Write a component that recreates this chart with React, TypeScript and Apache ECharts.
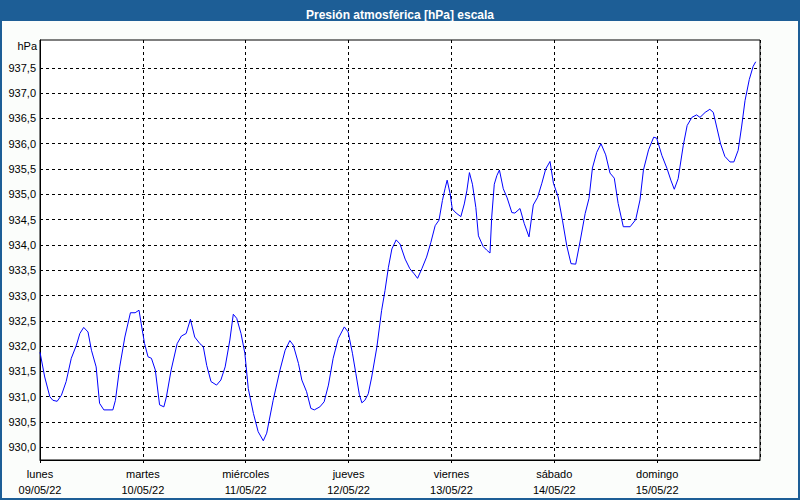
import React, { useEffect, useRef } from "react";
import * as echarts from "echarts";

// Hours since lunes 09/05/22 00:00
const hours = [
  0, 1.1, 2.3, 3.0, 4.0, 5.0, 6.1, 7.3, 8.5, 9.3, 10.2, 11.2, 12.0, 13.1, 13.9, 14.9, 17.0, 17.6, 18.6, 19.8,
  21.1, 22.2, 23.1, 23.6, 24.4, 25.2, 26.0, 26.9, 27.9, 28.9, 29.5, 30.6, 32.0, 33.0, 34.1, 35.1, 36.1, 37.3,
  38.1, 38.9, 39.9, 41.2, 42.2, 43.2, 44.3, 45.1, 45.9, 46.9, 47.8, 48.6, 49.8, 50.9, 52.1, 52.9, 54.4, 56.0,
  57.2, 58.3, 59.1, 60.3, 61.1, 62.2, 63.2, 64.0, 65.3, 66.3, 67.3, 68.4, 69.6, 71.0, 71.9, 72.9, 73.7, 74.5,
  75.1, 75.8, 76.6, 77.4, 78.6, 79.7, 80.5, 81.3, 82.1, 83.1, 84.0, 85.2, 86.3, 87.3, 88.1, 89.1, 90.2, 91.2,
  92.2, 93.1, 93.9, 94.5, 95.0, 95.7, 96.2, 97.1, 98.2, 99.0, 99.6, 100.2, 100.9, 101.7, 102.3, 103.4, 104.2,
  105.0, 105.4, 106.0, 106.6, 107.2, 108.1, 109.0, 110.1, 110.8, 112.0, 113.0, 114.1, 115.1, 116.1, 117.1,
  118.0, 119.0, 119.8, 120.9, 121.9, 122.9, 123.9, 125.0, 126.0, 127.2, 128.1, 128.9, 129.9, 130.9, 132.0,
  133.0, 134.0, 134.9, 136.1, 137.7, 139.0, 140.0, 140.8, 142.0, 143.2, 143.9, 145.1, 146.3, 147.2, 148.0,
  148.9, 150.1, 151.0, 152.1, 153.2, 154.0, 155.2, 156.3, 157.1, 157.9, 158.8, 159.8, 161.0, 161.9, 162.9,
  163.7, 164.5, 165.5, 166.4, 167.0,
];

const pressure = [
  931.88, 931.39, 931.0, 930.93, 930.91, 931.03, 931.3, 931.76, 932.02, 932.25, 932.37, 932.28, 931.92, 931.59,
  930.87, 930.74, 930.74, 930.93, 931.59, 932.18, 932.66, 932.66, 932.71, 932.45, 932.05, 931.79, 931.76,
  931.53, 930.84, 930.8, 931.0, 931.53, 932.05, 932.2, 932.25, 932.53, 932.18, 932.05, 931.99, 931.62,
  931.3, 931.23, 931.33, 931.59, 932.12, 932.63, 932.55, 932.25, 931.86, 931.16, 930.67, 930.31, 930.13,
  930.28, 930.93, 931.53, 931.92, 932.11, 932.02, 931.66, 931.33, 931.1, 930.77, 930.74, 930.8, 930.9,
  931.23, 931.76, 932.15, 932.38, 932.28, 931.86, 931.46, 931.05, 930.88, 930.93, 931.06, 931.39, 931.98,
  932.7, 933.1, 933.56, 933.92, 934.1, 934.02, 933.72, 933.53, 933.43, 933.34, 933.53, 933.76, 934.05,
  934.38, 934.49, 934.88, 935.11, 935.28, 935.01, 934.71, 934.63, 934.56, 934.81, 935.07, 935.43, 935.2,
  934.74, 934.18, 933.97, 933.9, 933.84, 934.55, 935.2, 935.37, 935.48, 935.11, 934.93, 934.64, 934.63,
  934.72, 934.42, 934.16, 934.79, 934.94, 935.22, 935.5, 935.65, 935.22, 934.95, 934.49, 933.99, 933.63,
  933.62, 934.06, 934.62, 934.92, 935.52, 935.83, 936.0, 935.78, 935.42, 935.32, 934.82, 934.36, 934.36,
  934.5, 934.89, 935.48, 935.88, 936.13, 936.11, 935.77, 935.51, 935.28, 935.1, 935.31, 935.97, 936.36,
  936.52, 936.57, 936.52, 936.62, 936.68, 936.62, 936.33, 936.0, 935.75, 935.64, 935.64, 935.87, 936.33,
  936.85, 937.27, 937.53, 937.62,
];

const dayNames = ["lunes", "martes", "miércoles", "jueves", "viernes", "sábado", "domingo"];
const dayDates = ["09/05/22", "10/05/22", "11/05/22", "12/05/22", "13/05/22", "14/05/22", "15/05/22"];
const yTicks = [930.0, 930.5, 931.0, 931.5, 932.0, 932.5, 933.0, 933.5, 934.0, 934.5, 935.0, 935.5, 936.0, 936.5, 937.0, 937.5];

const FONT = "'Liberation Sans', Arial, sans-serif";
const BLUE = "#1d5e96";

export default function App() {
  const ref = useRef<HTMLDivElement>(null);
  useEffect(() => {
    if (!ref.current) return;
    const chart = echarts.init(ref.current, null, { renderer: "svg" });
    const data = hours.map((h, i) => [h, pressure[i]]);
    chart.setOption({
      animation: false,
      backgroundColor: "#fbfdfb",
      title: {
        text: "Presión atmosférica [hPa] escala",
        left: "center",
        top: 4,
        textStyle: { color: "#ffffff", fontSize: 12, fontWeight: "bold", fontFamily: FONT },
      },
      graphic: [
        { type: "rect", shape: { x: 0, y: 0, width: 800, height: 21 }, style: { fill: BLUE }, z: 0 },
        { type: "rect", shape: { x: 1, y: 1, width: 798, height: 498 }, style: { fill: "none", stroke: BLUE, lineWidth: 2 }, z: 0 },
        {
          type: "text",
          x: 37,
          y: 46,
          style: { text: "hPa", fill: "#000", font: `11px ${FONT}`, textAlign: "right", textVerticalAlign: "middle" },
          z: 10,
        },
      ],
      grid: {
        left: 40,
        right: 40,
        top: 40,
        bottom: 40,
        show: true,
        backgroundColor: "#ffffff",
        borderColor: "#000",
        borderWidth: 1,
      },
      xAxis: {
        type: "value",
        min: 0,
        max: 168,
        interval: 24,
        axisLine: { show: true, lineStyle: { color: "#000", width: 1 } },
        axisTick: { show: true, length: 3, lineStyle: { color: "#000" } },
        splitLine: { show: true, lineStyle: { color: "#000", type: [3, 3], width: 1 } },
        axisLabel: {
          color: "#000",
          fontFamily: FONT,
          fontSize: 11,
          lineHeight: 16,
          margin: 6,
          showMaxLabel: false,
          formatter: (v: number) => {
            const i = Math.round(v / 24);
            return i < dayNames.length ? `${dayNames[i]}\n${dayDates[i]}` : "";
          },
        },
      },
      yAxis: {
        type: "value",
        min: 929.75,
        max: 938.05,
        axisLine: { show: true, lineStyle: { color: "#000", width: 1 } },
        axisTick: { show: false, customValues: yTicks },
        splitLine: { show: true, lineStyle: { color: "#000", type: [3, 3], width: 1 } },
        axisLabel: {
          customValues: yTicks,
          color: "#000",
          fontFamily: FONT,
          fontSize: 11,
          margin: 4,
          formatter: (v: number) => v.toFixed(1).replace(".", ","),
        },
      },
      series: [
        {
          type: "line",
          data,
          showSymbol: false,
          symbol: "none",
          lineStyle: { color: "#0000ff", width: 1 },
          silent: true,
        },
      ],
    });
    return () => chart.dispose();
  }, []);
  return <div ref={ref} style={{ position: "absolute", left: 0, top: 0, width: 800, height: 500 }} />;
}
